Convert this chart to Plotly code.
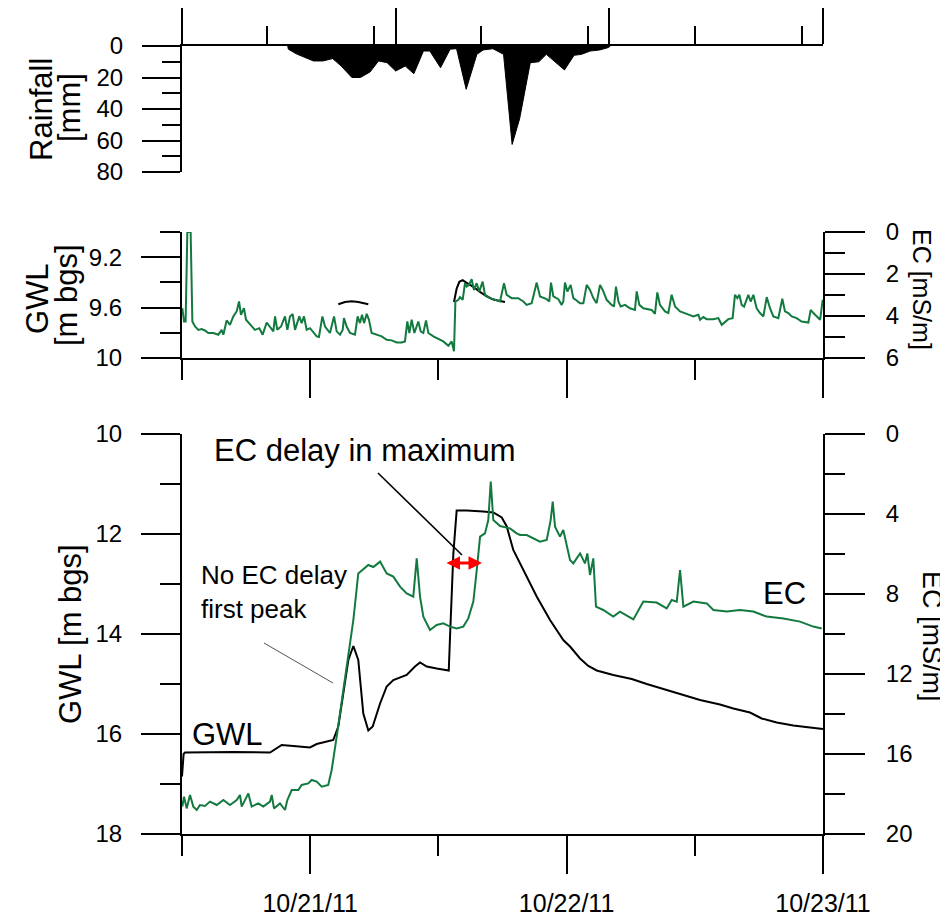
import pandas as pd
import plotly.graph_objects as go

# ---------------- data (hours after 2011-10-20 12:00) ----------------
START = pd.Timestamp("2011-10-20 12:00")
END = pd.Timestamp("2011-10-23 00:00")

rain_h = [9.9, 9.95, 10.7, 12.3, 13.2, 14.1, 14.9, 15.9, 16.7, 17.6, 18.4, 19.2, 20.0,
          20.9, 21.7, 22.6, 23.2, 24.2, 25.1, 25.7, 26.6, 27.6, 28.2, 29.1, 30.1,
          30.9, 31.6, 32.6, 33.4, 34.1, 35.8, 36.7, 37.4, 38.2, 39.1, 39.9, 40.1]
rain_mm = [0, 2, 5, 9.5, 9.5, 8, 12.7, 20, 20, 16.5, 9.5, 10.6, 15.9,
           12.7, 17.6, 3.2, 3.2, 13.8, 2, 1.7, 27.5, 5.3, 2.5, 1.7, 5.3,
           62.5, 46.3, 10.6, 10, 5.3, 15.2, 5.9, 5.3, 3.2, 2.5, 1, 0]

mid_ec_h = [0.03, 0.19, 0.34, 0.50, 0.81, 0.97, 1.22, 1.53, 1.84, 2.15, 2.46, 2.93, 3.40,
            3.71, 3.87, 4.18, 4.49, 4.80, 5.12, 5.34, 5.52, 5.80, 5.99, 6.37, 6.83,
            7.24, 7.55, 7.93, 8.24, 8.55, 8.71, 8.92, 9.27, 9.64, 9.86, 10.11, 10.36,
            10.58, 10.98, 11.2, 11.42, 11.67, 11.98, 12.61, 12.82, 13.14, 13.39, 13.85,
            14.23, 14.48, 14.79, 15.04, 15.16, 15.41, 15.73, 16.19, 16.44, 16.66, 16.85,
            17.04, 17.29, 17.50, 17.75, 18.22, 18.69, 19.16, 19.63, 20.09, 20.56, 20.87,
            21.09, 21.28, 21.50, 21.75, 22.12, 22.34, 22.59, 22.84, 23.06, 23.53, 23.99,
            24.46, 24.93, 25.24, 25.46, 25.59, 25.87, 26.02, 26.27, 26.49, 26.65, 26.86,
            27.11, 27.33, 27.58, 27.83, 28.14, 28.36, 28.83, 29.30, 29.77, 30.14, 30.39,
            30.86, 31.48, 31.95, 32.26, 32.73, 33.20, 33.51, 33.82, 34.13, 34.38, 34.54,
            34.76, 35.23, 35.54, 35.69, 35.85, 36.07, 36.38, 36.63, 36.94, 37.25, 37.57,
            37.88, 38.19, 38.50, 38.81, 39.13, 39.38, 39.75, 40.22, 40.44, 40.62, 40.85,
            41.06, 41.47, 41.93, 42.40, 42.56, 42.81, 43.18, 43.49, 43.96, 44.27, 44.49,
            44.74, 45.21, 45.52, 45.83, 46.15, 46.62, 47.24, 47.86, 48.33, 48.49, 48.80,
            49.11, 49.73, 50.20, 50.52, 50.83, 51.14, 51.54, 51.76, 51.98, 52.17, 52.39,
            52.61, 53.01, 53.23, 53.48, 53.79, 54.10, 54.42, 54.73, 55.04, 55.35, 55.82,
            56.19, 56.44, 56.75, 57.07, 57.53, 58.00, 58.63, 58.85, 59.10, 59.41, 59.73,
            59.97]
mid_ec = [3.63, 4.26, 4.26, 0.0, 0.0, 4.26, 4.50, 4.66, 4.62, 4.69, 4.81, 4.81, 4.89,
          4.66, 4.89, 4.21, 4.42, 4.02, 3.78, 3.31, 3.94, 3.63, 4.18, 4.42, 4.66,
          4.58, 4.89, 4.31, 4.50, 4.73, 4.02, 4.66, 4.50, 4.02, 4.66, 4.02, 3.91,
          4.66, 4.02, 4.34, 4.02, 4.66, 4.58, 4.97, 5.00, 4.02, 4.50, 4.81,
          4.02, 4.73, 4.89, 4.66, 4.10, 4.50, 4.81, 4.89, 4.02, 4.34, 3.94,
          4.34, 3.90, 4.18, 4.81, 4.89, 4.97, 5.13, 5.16, 5.26, 5.26, 5.21,
          4.26, 4.81, 4.18, 4.81, 4.26, 4.73, 4.81, 4.21, 4.81, 4.97, 5.10,
          5.21, 5.42, 5.21, 5.68, 3.31, 3.23, 3.10, 3.23, 2.44, 2.60, 2.52,
          2.25, 2.76, 2.44, 2.83, 2.36, 2.99, 3.15, 3.23, 3.31, 2.44, 2.99,
          3.15, 3.15, 3.31, 3.47, 3.39, 2.41, 3.07, 3.15, 3.20, 3.31, 2.41,
          3.07, 3.20, 3.47, 3.31, 2.41, 2.83, 2.52, 3.15, 3.26, 3.39, 3.39,
          2.52, 2.76, 3.15, 3.39, 2.52, 2.76, 3.23, 3.47, 3.55, 2.60, 3.31,
          3.55, 3.47, 3.63, 3.71, 2.83, 3.47, 3.63, 3.67, 3.71, 3.90, 2.88,
          3.47, 3.78, 3.86, 2.99, 3.55, 3.78, 3.90, 4.02, 3.94, 4.18, 4.05,
          4.15, 4.15, 4.10, 4.42, 4.26, 4.15, 4.10, 2.99, 3.15, 2.99, 3.47,
          3.55, 2.99, 3.31, 2.99, 3.63, 3.86, 4.02, 3.10, 3.63, 4.02, 4.10,
          3.18, 3.78, 3.86, 4.02, 4.10, 4.26, 4.31, 3.71, 3.86, 4.02, 4.18,
          3.23]

mid_gwl_h = [14.63, 15.26, 15.88, 16.51, 17.44, None,
             25.46, 25.71, 25.96, 26.27, 26.65, 27.27, 27.89, 28.52, 29.14, 29.77, 30.23]
mid_gwl = [9.573, 9.555, 9.549, 9.555, 9.573, None,
           9.555, 9.449, 9.395, 9.382, 9.403, 9.435, 9.475, 9.510, 9.536, 9.549, 9.555]

gwl_h = [0.0, 0.15, 0.28, 4.80, 8.24, 9.33, 10.42, 11.98, 12.61, 14.16, 14.63, 15.10,
         15.57, 16.04, 16.50, 16.97, 17.44, 17.85, 18.54, 19.16, 19.78, 21.03, 21.81,
         22.28, 22.91, 23.84, 24.97, 25.09, 25.40, 25.71, 26.65, 28.20, 29.14, 29.93,
         30.40, 31.01, 31.95, 33.20, 34.45, 35.69, 36.32, 37.26, 38.03, 38.82, 40.37,
         42.10, 43.50, 45.05, 46.93, 48.49, 50.36, 51.61, 53.17, 54.26, 55.67, 57.22,
         58.79, 60.0]
gwl = [16.85, 16.40, 16.37, 16.36, 16.37, 16.22, 16.24, 16.27, 16.20, 16.12, 15.85, 15.19,
       14.52, 14.24, 14.52, 15.59, 15.93, 15.85, 15.39, 15.05, 14.92, 14.82, 14.65,
       14.57, 14.65, 14.69, 14.73, 14.05, 12.39, 11.53, 11.53, 11.55, 11.57, 11.67,
       11.85, 12.32, 12.72, 13.25, 13.72, 14.12, 14.25, 14.49, 14.64, 14.73, 14.82,
       14.90, 15.00, 15.10, 15.23, 15.32, 15.41, 15.49, 15.57, 15.69, 15.77, 15.83,
       15.87, 15.90]

ec_h = [0.03, 0.19, 0.44, 0.75, 1.06, 1.38, 1.68, 2.15, 2.62, 3.25, 3.87, 4.49, 5.12,
        5.43, 5.59, 6.21, 6.52, 7.14, 7.61, 8.24, 8.40, 8.61, 9.17, 9.64, 9.86, 10.27,
        10.89, 11.2, 11.82, 12.14, 12.61, 13.08, 13.69, 14.01, 14.48, 15.10, 15.57,
        16.04, 16.50, 17.29, 17.44, 17.91, 18.54, 19.16, 19.78, 20.41, 21.03, 21.65,
        21.97, 22.28, 22.59, 23.21, 23.84, 24.46, 25.09, 25.71, 26.33, 26.80, 27.27,
        27.59, 27.90, 28.36, 28.67, 28.90, 29.14, 29.77, 30.70, 31.33, 31.64, 32.27,
        32.89, 33.51, 34.14, 34.51, 34.70, 34.92, 35.38, 35.69, 36.32, 36.63, 37.26,
        37.72, 37.94, 38.19, 38.50, 38.75, 39.43, 40.37, 41.0, 42.25, 43.18, 44.43,
        45.37, 45.84, 46.31, 46.62, 46.93, 47.87, 49.12, 49.74, 50.99, 52.23, 53.48,
        54.73, 56.29, 57.85, 59.09, 59.88]
ec = [18.63, 18.13, 18.72, 18.05, 18.63, 18.80, 18.55, 18.60, 18.38, 18.55, 18.30, 18.55,
      18.30, 18.05, 18.63, 17.97, 18.63, 18.47, 18.63, 18.38, 18.05, 18.72, 18.47,
      18.80, 18.30, 17.80, 17.80, 17.55, 17.47, 17.30, 17.38, 17.63, 17.55, 16.80,
      15.13, 12.80, 10.97, 9.30, 6.97, 6.60, 6.55, 6.65, 6.38, 6.97, 7.13, 7.63,
      7.97, 8.13, 6.22, 8.13, 9.13, 9.80, 9.55, 9.47, 9.63, 9.72, 9.63, 9.22, 8.38,
      6.80, 5.13, 4.97, 4.30, 2.38, 4.30, 4.60, 4.72, 4.97, 5.05, 5.05, 5.20, 5.38,
      5.30, 4.30, 3.38, 4.63, 5.13, 4.80, 6.30, 6.47, 5.97, 6.47, 5.97, 7.05, 6.22,
      8.63, 8.80, 9.13, 8.88, 9.27, 8.38, 8.43, 8.72, 8.30, 8.38, 6.80, 8.63, 8.38,
      8.47, 8.80, 8.88, 8.80, 8.88, 9.13, 9.22, 9.38, 9.63, 9.72]


def to_t(hours):
    return [None if h is None else START + pd.to_timedelta(h, unit="h") for h in hours]


# ---------------- layout helpers (screen pixel -> paper) ----------------
OFF = 8                      # page body margin of the html page
W, H = 948 - OFF, 919 - OFF
L, R, T, B = 182, 823, 46, 834   # plot box in screen pixels


def px(x):
    return (x - L) / (R - L)


def py(y):
    return (B - y) / (B - T)


FONT = "Liberation Sans, Arial, Helvetica, sans-serif"
GREEN = "#137a3f"
AX = dict(showline=True, linecolor="black", linewidth=2, ticks="outside",
          tickcolor="black", tickwidth=2, showgrid=False, zeroline=False,
          automargin=False, tickfont=dict(family=FONT, size=24, color="black"))

fig = go.Figure()

# rainfall
fig.add_trace(go.Scatter(x=to_t(rain_h), y=rain_mm, mode="lines", fill="tozeroy",
                         fillcolor="black", line=dict(color="black", width=1),
                         xaxis="x3", yaxis="y5", showlegend=False))
# middle panel
fig.add_trace(go.Scatter(x=to_t(mid_ec_h), y=mid_ec, mode="lines",
                         line=dict(color=GREEN, width=2), xaxis="x2", yaxis="y4",
                         showlegend=False))
fig.add_trace(go.Scatter(x=to_t(mid_gwl_h), y=mid_gwl, mode="lines",
                         line=dict(color="black", width=2), xaxis="x2", yaxis="y3",
                         connectgaps=False, showlegend=False))
# bottom panel
fig.add_trace(go.Scatter(x=to_t(ec_h), y=ec, mode="lines",
                         line=dict(color=GREEN, width=2), xaxis="x", yaxis="y2",
                         showlegend=False))
fig.add_trace(go.Scatter(x=to_t(gwl_h), y=gwl, mode="lines",
                         line=dict(color="black", width=2), xaxis="x", yaxis="y",
                         showlegend=False))

d_top = [py(172), 1.0]
d_mid = [py(358), py(232)]
d_bot = [0.0, py(434)]

MINOR = dict(ticks="outside", tickwidth=2, tickcolor="black")

fig.update_layout(
    width=W, height=H,
    margin=dict(l=L - OFF, r=W - (R - OFF), t=T - OFF, b=H - (B - OFF), pad=0),
    plot_bgcolor="white", paper_bgcolor="white",
    font=dict(family=FONT, color="black"),
    xaxis=dict(AX, domain=[0, 1], anchor="y", type="date", range=[START, END],
               tick0="2011-10-21", dtick=86400000, tickformat="%m/%d/%y",
               ticklen=38, ticklabelstandoff=8,
               tickfont=dict(family=FONT, size=25, color="black"),
               minor=dict(MINOR, ticklen=20, dtick=43200000)),
    yaxis=dict(AX, domain=d_bot, anchor="x", range=[18, 10], tick0=10, dtick=2,
               ticklen=39, ticklabelstandoff=14,
               minor=dict(MINOR, ticklen=20, dtick=1)),
    yaxis2=dict(AX, domain=d_bot, anchor="x", overlaying="y", side="right",
                range=[20, 0], tick0=0, dtick=4, ticklen=40, ticklabelstandoff=16,
                minor=dict(MINOR, ticklen=20, dtick=2)),
    xaxis2=dict(AX, domain=[0, 1], anchor="y3", type="date", range=[START, END],
                tick0="2011-10-21", dtick=86400000, showticklabels=False, ticklen=38,
                minor=dict(MINOR, ticklen=20, dtick=43200000)),
    yaxis3=dict(AX, domain=d_mid, anchor="x2", range=[10, 9.0], tick0=9.2, dtick=0.4,
                tickformat=".1~f", ticklen=39, ticklabelstandoff=14,
                minor=dict(MINOR, ticklen=20, dtick=0.2)),
    yaxis4=dict(AX, domain=d_mid, anchor="x2", overlaying="y3", side="right",
                range=[6, 0], tick0=0, dtick=2, ticklen=40, ticklabelstandoff=16,
                minor=dict(MINOR, ticklen=20, dtick=1)),
    xaxis3=dict(AX, domain=[0, 1], anchor="y5", side="top", type="date",
                range=[START, END], tick0=START, dtick=72000000, showticklabels=False,
                ticklen=36, minor=dict(MINOR, ticklen=18, dtick=36000000)),
    yaxis5=dict(AX, domain=d_top, anchor="x3", range=[80, 0], tick0=0, dtick=20,
                ticklen=38, ticklabelstandoff=14,
                minor=dict(MINOR, ticklen=18, dtick=10)),
)

ann = []


def text(s, x, y, size, angle=0, xanchor="center", align="center"):
    ann.append(dict(text=s, x=px(x), y=py(y), xref="paper", yref="paper",
                    showarrow=False, textangle=angle, xanchor=xanchor, yanchor="middle",
                    align=align, font=dict(family=FONT, size=size, color="black")))


# axis titles
text("Rainfall", 41, 110, 31, -90)
text("[mm]", 70, 108, 31, -90)
text("GWL", 37, 299, 31, -90)
text("[m bgs]", 66, 295, 31, -90)
text("EC [mS/m]", 922, 290, 25, 90)
text("GWL [m bgs]", 70, 634, 31, -90)
text("EC [mS/m]", 932, 636, 27, 90)

# in-plot labels
text("EC delay in maximum", 212, 450, 31, xanchor="left")
text("No EC delay<br>first peak", 199, 592, 26, xanchor="left", align="left")
text("GWL", 190, 734, 31, xanchor="left")
text("EC", 761, 593, 31, xanchor="left")

# red double arrow
ann.append(dict(x=px(482), y=py(563), ax=-37, ay=0, xref="paper", yref="paper",
                axref="pixel", ayref="pixel", text="", showarrow=True,
                arrowside="end+start", arrowhead=2, startarrowhead=2,
                arrowsize=0.9, startarrowsize=0.9, arrowwidth=3, arrowcolor="red"))

fig.update_layout(annotations=ann)

# pointer lines
fig.add_shape(type="line", xref="paper", yref="paper", x0=px(378), y0=py(473),
              x1=px(462), y1=py(555), line=dict(color="black", width=1.6))
fig.add_shape(type="line", xref="paper", yref="paper", x0=px(264), y0=py(643),
              x1=px(333), y1=py(683), line=dict(color="#555555", width=1))

fig.write_html("out.html")
